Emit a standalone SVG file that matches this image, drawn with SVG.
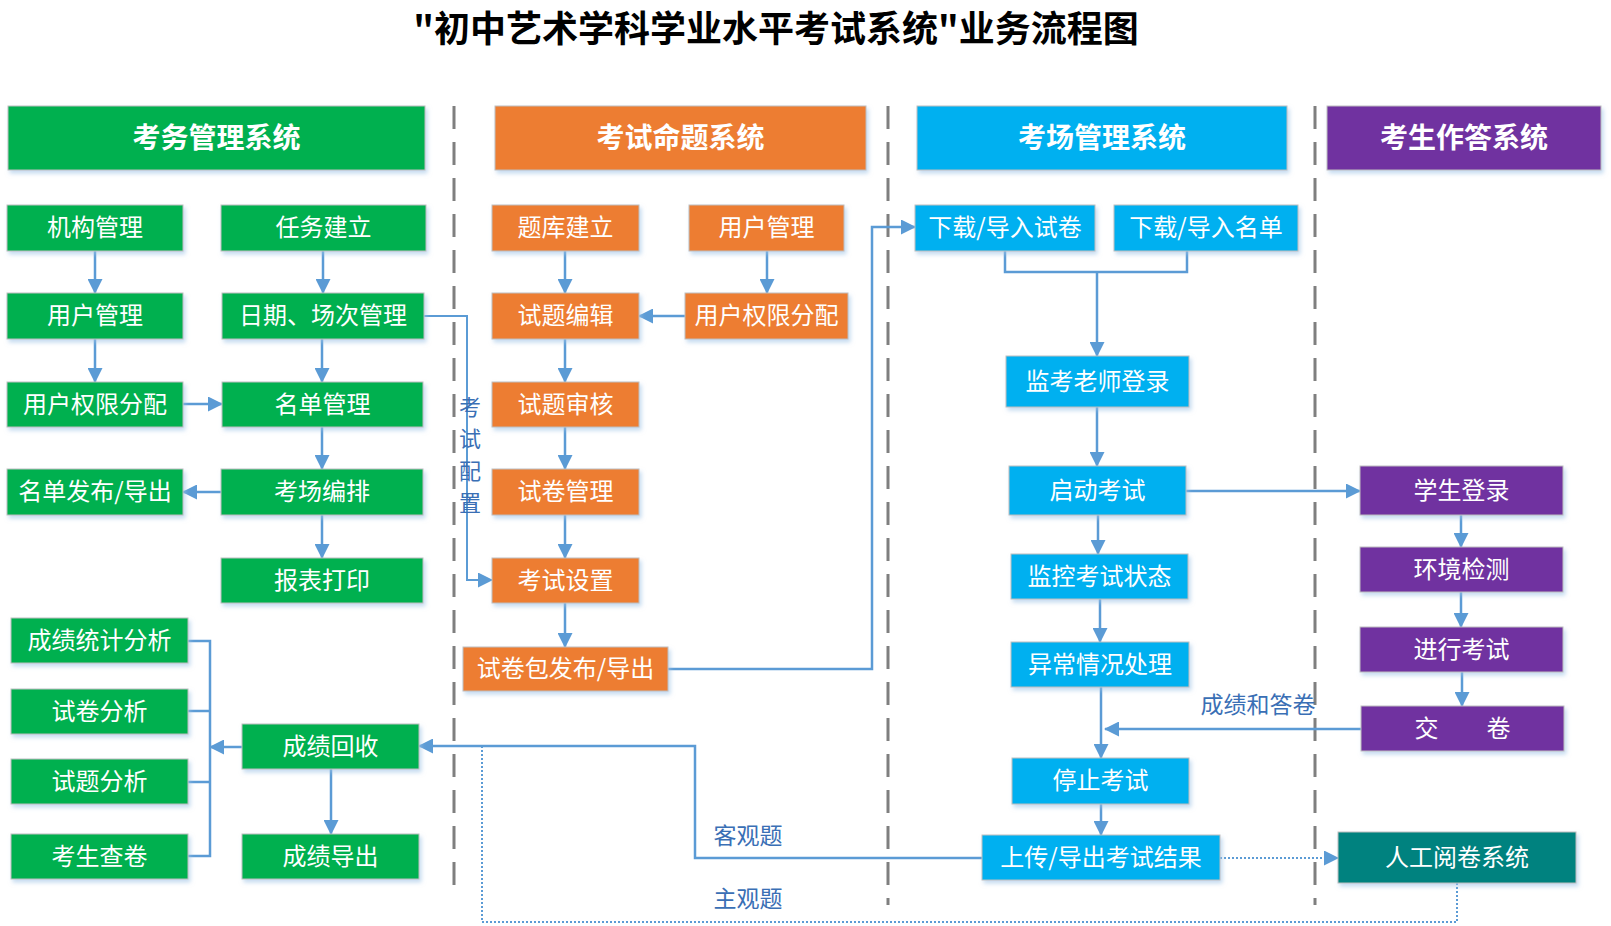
<svg xmlns="http://www.w3.org/2000/svg" width="1611" height="926" viewBox="0 0 1611 926">
<style>
text{font-family:"Noto Sans CJK SC","Noto Sans",sans-serif;}
.t{font-size:24px;fill:#fff;text-anchor:middle;}
.h{font-size:28px;font-weight:bold;fill:#fff;text-anchor:middle;}
.lb{font-size:23px;fill:#3A6FB5;text-anchor:middle;}
.g{fill:#00B050;stroke:#BFBFBF;stroke-width:1;filter:url(#sh);}
.o{fill:#ED7D31;stroke:#BFBFBF;stroke-width:1;filter:url(#sh);}
.b{fill:#00B0F0;stroke:#BFBFBF;stroke-width:1;filter:url(#sh);}
.p{fill:#7030A0;stroke:#BFBFBF;stroke-width:1;filter:url(#sh);}
.tl{fill:#00827F;stroke:#BFBFBF;stroke-width:1;filter:url(#sh);}
.c{fill:none;stroke:#5B9BD5;stroke-width:2.5;}
.a{marker-end:url(#ar);}
.d{fill:none;stroke:#5B9BD5;stroke-width:2;stroke-dasharray:2 2;}
.sep{stroke:#7F7F7F;stroke-width:3;stroke-dasharray:23 13;}
</style>
<defs>
<filter id="sh" x="-10%" y="-10%" width="125%" height="140%">
<feDropShadow dx="2" dy="3" stdDeviation="2" flood-color="#9DC3E6" flood-opacity="0.6"/>
</filter>
<marker id="ar" markerUnits="userSpaceOnUse" markerWidth="15" markerHeight="15" viewBox="0 0 15 15" refX="14" refY="7.5" orient="auto">
<path d="M0,0 L15,7.5 L0,15 z" fill="#5B9BD5"/>
</marker>
</defs>
<rect width="1611" height="926" fill="#fff"/>
<text x="776" y="42" style="font-size:36px;font-weight:bold;fill:#000;text-anchor:middle;">"初中艺术学科学业水平考试系统"业务流程图</text>

<g id="separators">
<line class="sep" x1="454" y1="106" x2="454" y2="888"/>
<line class="sep" x1="888" y1="106" x2="888" y2="905"/>
<line class="sep" x1="1315" y1="106" x2="1315" y2="905"/>
</g>

<g id="headers">
<g id="h1"><rect class="g" x="8" y="106" width="417" height="64"/><text class="h" x="216.5" y="148">考务管理系统</text></g>
<g id="h2"><rect class="o" x="495" y="106" width="371" height="64"/><text class="h" x="680.5" y="148">考试命题系统</text></g>
<g id="h3"><rect class="b" x="917" y="106" width="370" height="64"/><text class="h" x="1102" y="148">考场管理系统</text></g>
<g id="h4"><rect class="p" x="1327" y="106" width="274" height="64"/><text class="h" x="1464" y="148">考生作答系统</text></g>
</g>

<g id="connectors">
<path class="c a" d="M95,251 V293"/>
<path class="c a" d="M95,339 V382"/>
<path class="c a" d="M323,251 V293"/>
<path class="c a" d="M322,339 V382"/>
<path class="c a" d="M322,427 V469"/>
<path class="c a" d="M322,515 V558"/>
<path class="c a" d="M183,404 H222"/>
<path class="c a" d="M221,492 H183"/>
<path class="c a" style="stroke-width:2" d="M424,316 H467 V580 H492"/>
<path class="c a" d="M565,251 V293"/>
<path class="c a" d="M565,339 V382"/>
<path class="c a" d="M565,427 V469"/>
<path class="c a" d="M565,515 V558"/>
<path class="c a" d="M565,603 V647"/>
<path class="c a" d="M767,251 V293"/>
<path class="c a" d="M685,316 H639"/>
<path class="c a" d="M668,669 H872 V227 H915"/>
<path class="c" d="M1005,251 V272 H1187 V251"/>
<path class="c a" d="M1097,272 V356"/>
<path class="c a" d="M1097,407 V466"/>
<path class="c a" d="M1098,515 V554"/>
<path class="c a" d="M1100,599 V642"/>
<path class="c a" d="M1101,687 V758"/>
<path class="c a" d="M1101,804 V835"/>
<path class="c a" d="M1186,491 H1360"/>
<path class="c a" d="M1461,515 V547"/>
<path class="c a" d="M1461,592 V627"/>
<path class="c a" d="M1462,672 V706"/>
<path class="c a" d="M1361,729 H1105"/>
<path class="c a" d="M982,858 H695 V746 H419"/>
<path class="d a" d="M1220,858 H1338"/>
<path class="d" d="M1457,883 V922 H482 V746"/>
<path class="c a" d="M331,769 V834"/>
<path class="c a" d="M242,747 H210"/>
<path class="c" d="M188,641 H210 V856 H188 M188,711 H210 M188,782 H210"/>
</g>

<g id="labels">
<text class="lb" style="font-size:22px" x="470" y="415">考</text>
<text class="lb" style="font-size:22px" x="470" y="447">试</text>
<text class="lb" style="font-size:22px" x="470" y="479">配</text>
<text class="lb" style="font-size:22px" x="470" y="511">置</text>
<text class="lb" x="1258" y="713">成绩和答卷</text>
<text class="lb" x="748" y="844">客观题</text>
<text class="lb" x="748" y="907">主观题</text>
</g>

<g id="n1"><rect class="g" x="7" y="205" width="176" height="46"/><text class="t" x="95" y="236">机构管理</text></g>
<g id="n2"><rect class="g" x="221" y="205" width="205" height="46"/><text class="t" x="323.5" y="236">任务建立</text></g>
<g id="n3"><rect class="g" x="7" y="293" width="176" height="46"/><text class="t" x="95" y="324">用户管理</text></g>
<g id="n4"><rect class="g" x="222" y="293" width="202" height="46"/><text class="t" x="323" y="324">日期、场次管理</text></g>
<g id="n5"><rect class="g" x="7" y="382" width="176" height="45"/><text class="t" x="95" y="413">用户权限分配</text></g>
<g id="n6"><rect class="g" x="222" y="382" width="201" height="45"/><text class="t" x="322.5" y="413">名单管理</text></g>
<g id="n7"><rect class="g" x="7" y="469" width="176" height="46"/><text class="t" x="95" y="500">名单发布/导出</text></g>
<g id="n8"><rect class="g" x="221" y="469" width="202" height="46"/><text class="t" x="322" y="500">考场编排</text></g>
<g id="n9"><rect class="g" x="221" y="558" width="202" height="45"/><text class="t" x="322" y="589">报表打印</text></g>
<g id="n10"><rect class="g" x="11" y="618" width="177" height="45"/><text class="t" x="99.5" y="649">成绩统计分析</text></g>
<g id="n11"><rect class="g" x="11" y="689" width="177" height="45"/><text class="t" x="99.5" y="720">试卷分析</text></g>
<g id="n12"><rect class="g" x="11" y="759" width="177" height="45"/><text class="t" x="99.5" y="790">试题分析</text></g>
<g id="n13"><rect class="g" x="11" y="834" width="177" height="45"/><text class="t" x="99.5" y="865">考生查卷</text></g>
<g id="n14"><rect class="g" x="242" y="724" width="177" height="45"/><text class="t" x="330.5" y="755">成绩回收</text></g>
<g id="n15"><rect class="g" x="242" y="834" width="177" height="45"/><text class="t" x="330.5" y="865">成绩导出</text></g>

<g id="o1"><rect class="o" x="492" y="205" width="147" height="46"/><text class="t" x="565.5" y="236">题库建立</text></g>
<g id="o2"><rect class="o" x="689" y="205" width="155" height="46"/><text class="t" x="766.5" y="236">用户管理</text></g>
<g id="o3"><rect class="o" x="492" y="293" width="147" height="46"/><text class="t" x="565.5" y="324">试题编辑</text></g>
<g id="o4"><rect class="o" x="685" y="293" width="163" height="46"/><text class="t" x="766.5" y="324">用户权限分配</text></g>
<g id="o5"><rect class="o" x="492" y="382" width="147" height="45"/><text class="t" x="565.5" y="413">试题审核</text></g>
<g id="o6"><rect class="o" x="492" y="469" width="147" height="46"/><text class="t" x="565.5" y="500">试卷管理</text></g>
<g id="o7"><rect class="o" x="492" y="558" width="147" height="45"/><text class="t" x="565.5" y="589">考试设置</text></g>
<g id="o8"><rect class="o" x="463" y="647" width="205" height="44"/><text class="t" x="565.5" y="677">试卷包发布/导出</text></g>

<g id="b1"><rect class="b" x="915" y="205" width="180" height="46"/><text class="t" x="1005" y="236">下载/导入试卷</text></g>
<g id="b2"><rect class="b" x="1114" y="205" width="184" height="46"/><text class="t" x="1206" y="236">下载/导入名单</text></g>
<g id="b3"><rect class="b" x="1006" y="356" width="183" height="51"/><text class="t" x="1097.5" y="390">监考老师登录</text></g>
<g id="b4"><rect class="b" x="1009" y="466" width="177" height="49"/><text class="t" x="1097.5" y="499">启动考试</text></g>
<g id="b5"><rect class="b" x="1011" y="554" width="177" height="45"/><text class="t" x="1099.5" y="585">监控考试状态</text></g>
<g id="b6"><rect class="b" x="1011" y="642" width="178" height="45"/><text class="t" x="1100" y="673">异常情况处理</text></g>
<g id="b7"><rect class="b" x="1012" y="758" width="177" height="46"/><text class="t" x="1100.5" y="789">停止考试</text></g>
<g id="b8"><rect class="b" x="982" y="835" width="238" height="45"/><text class="t" x="1101" y="866">上传/导出考试结果</text></g>

<g id="p1"><rect class="p" x="1360" y="466" width="203" height="49"/><text class="t" x="1461.5" y="499">学生登录</text></g>
<g id="p2"><rect class="p" x="1360" y="547" width="203" height="45"/><text class="t" x="1461.5" y="578">环境检测</text></g>
<g id="p3"><rect class="p" x="1360" y="627" width="203" height="45"/><text class="t" x="1461.5" y="658">进行考试</text></g>
<g id="p4"><rect class="p" x="1361" y="706" width="203" height="45"/><text class="t" x="1462.5" y="737">交　　卷</text></g>

<g id="m1"><rect class="tl" x="1338" y="832" width="238" height="51"/><text class="t" x="1457" y="866">人工阅卷系统</text></g>
</svg>
